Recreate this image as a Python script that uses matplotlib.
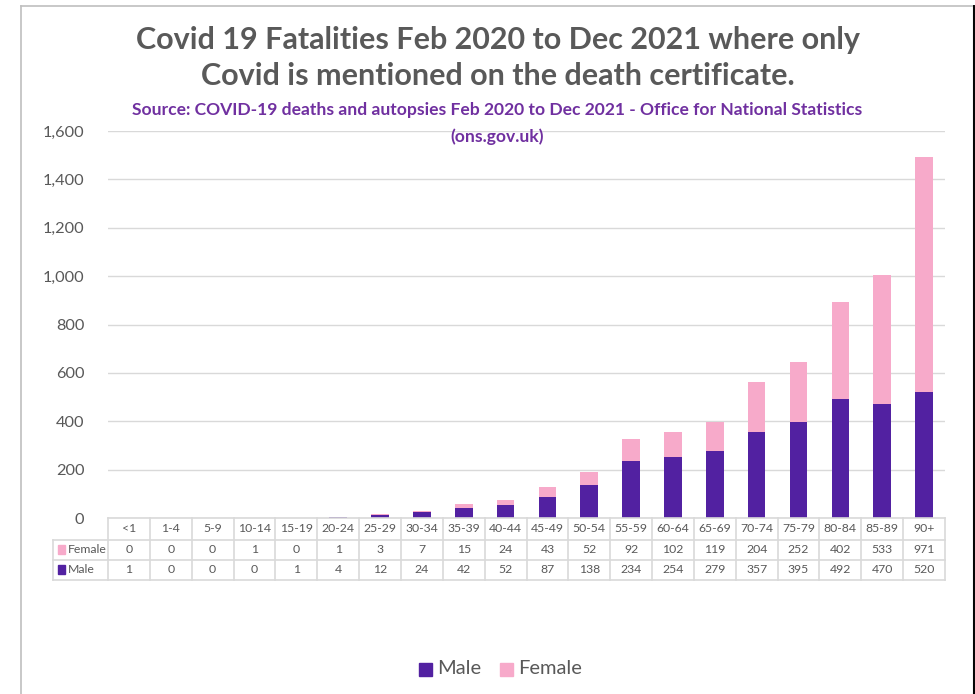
import matplotlib.pyplot as plt
from matplotlib.patches import Rectangle
from matplotlib.lines import Line2D

plt.rcParams['font.family'] = ['Lato', 'DejaVu Sans']

# ONS figures, deaths with only Covid on the certificate
age_groups = ['<1', '1-4', '5-9', '10-14', '15-19', '20-24', '25-29', '30-34',
              '35-39', '40-44', '45-49', '50-54', '55-59', '60-64', '65-69',
              '70-74', '75-79', '80-84', '85-89', '90+']
female = [0, 0, 0, 1, 0, 1, 3, 7, 15, 24, 43, 52, 92, 102, 119, 204, 252, 402, 533, 971]
male = [1, 0, 0, 0, 1, 4, 12, 24, 42, 52, 87, 138, 234, 254, 279, 357, 395, 492, 470, 520]
y_ticks = [0, 200, 400, 600, 800, 1000, 1200, 1400, 1600]

MALE_C = '#5221A1'
FEMALE_C = '#F7AACA'
GREY = '#595959'
LINE = '#D9D9D9'

W, H = 975, 694
fig = plt.figure(figsize=(W / 100, H / 100), dpi=100)

def fx(px):
    return px / W

def fy(py):
    return 1 - py / H

# chart area border
fig.add_artist(Line2D([fx(21), fx(21)], [fy(6), 0], color='#BFBFBF', lw=1.2))
fig.add_artist(Line2D([fx(21), fx(972.5)], [fy(6), fy(6)], color='#BFBFBF', lw=1.2))
fig.add_artist(Line2D([fx(972.5), fx(972.5)], [fy(6), 0], color='#D0D0D0', lw=1))
fig.add_artist(Line2D([fx(974.3), fx(974.3)], [fy(6), 0], color='black', lw=1.4))

# titles
fig.text(fx(498), fy(40), 'Covid 19 Fatalities Feb 2020 to Dec 2021 where only',
         ha='center', va='center', fontsize=22, fontweight='bold', color=GREY)
fig.text(fx(498), fy(76), 'Covid is mentioned on the death certificate.',
         ha='center', va='center', fontsize=22, fontweight='bold', color=GREY)
fig.text(fx(497), fy(110), 'Source: COVID-19 deaths and autopsies Feb 2020 to Dec 2021 - Office for National Statistics',
         ha='center', va='center', fontsize=12.6, fontweight='bold', color='#7030A0')
fig.text(fx(497), fy(137), '(ons.gov.uk)',
         ha='center', va='center', fontsize=12.6, fontweight='bold', color='#7030A0')

# main bar axes
ax = fig.add_axes([fx(108), fy(518), fx(945 - 108), fy(131) - fy(518)])
x = list(range(len(age_groups)))
ax.bar(x, male, width=0.42, color=MALE_C, zorder=3)
ax.bar(x, female, width=0.42, bottom=male, color=FEMALE_C, zorder=3)
ax.set_xlim(-0.5, len(age_groups) - 0.5)
ax.set_ylim(0, 1600)
ax.set_yticks(y_ticks)
ax.set_yticklabels([f'{v:,}' for v in y_ticks])
ax.tick_params(axis='y', length=0, pad=17, labelsize=11.8, labelcolor=GREY)
ax.set_xticks([])
ax.grid(axis='y', color=LINE, lw=1, zorder=0)
for s in ax.spines.values():
    s.set_visible(False)
ax.set_facecolor('none')

# data table below the bars
cell = (945 - 108) / len(age_groups)
key_w = (108 - 53) / cell
tx = fig.add_axes([fx(53), fy(580), fx(945 - 53), fy(518) - fy(580)])
tx.set_xlim(-0.5 - key_w, len(age_groups) - 0.5)
tx.set_ylim(3, 0)
tx.axis('off')
row_y = [0, 1.05, 2.02, 3]
# horizontal rules
tx.plot([-0.5, len(age_groups) - 0.5], [row_y[0]] * 2, color=LINE, lw=1.2, clip_on=False)
for yy in row_y[1:]:
    tx.plot([-0.5 - key_w, len(age_groups) - 0.5], [yy, yy], color=LINE, lw=1.2, clip_on=False)
# vertical rules
tx.plot([-0.5 - key_w] * 2, [row_y[1], row_y[3]], color=LINE, lw=1.2, clip_on=False)
for i in range(len(age_groups) + 1):
    tx.plot([i - 0.5] * 2, [row_y[0], row_y[3]], color=LINE, lw=1.2, clip_on=False)

fs = 8.8
for i, lab in enumerate(age_groups):
    tx.text(i, (row_y[0] + row_y[1]) / 2, lab, ha='center', va='center', fontsize=fs, color=GREY)
    tx.text(i, (row_y[1] + row_y[2]) / 2, str(female[i]), ha='center', va='center', fontsize=fs, color=GREY)
    tx.text(i, (row_y[2] + row_y[3]) / 2, str(male[i]), ha='center', va='center', fontsize=fs, color=GREY)

for r, (name, col) in enumerate([('Female', FEMALE_C), ('Male', MALE_C)]):
    yc = (row_y[r + 1] + row_y[r + 2]) / 2
    tx.add_patch(Rectangle((-0.5 - key_w + 0.12, yc - 0.22), 0.16, 0.44, color=col, clip_on=False))
    tx.text(-0.5 - key_w + 0.36, yc, name, ha='left', va='center', fontsize=fs, color=GREY)

# legend
leg_y = fy(669)
fig.add_artist(Rectangle((fx(419), leg_y - 6.5 / H), 13 / W, 13 / H, color=MALE_C))
fig.text(fx(437), leg_y, 'Male', ha='left', va='center', fontsize=14.5, color=GREY)
fig.add_artist(Rectangle((fx(500), leg_y - 6.5 / H), 13 / W, 13 / H, color=FEMALE_C))
fig.text(fx(518), leg_y, 'Female', ha='left', va='center', fontsize=14.5, color=GREY)

fig.savefig('out.png', dpi=100)
